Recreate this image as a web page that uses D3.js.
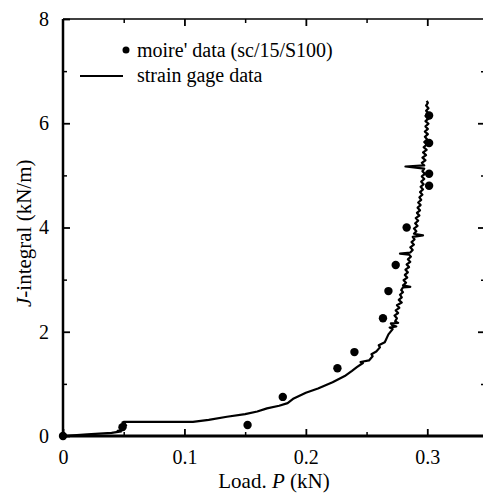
<!DOCTYPE html>
<html>
<head>
<meta charset="utf-8">
<script src="https://cdn.jsdelivr.net/npm/d3@7"></script>
<style>
  body { margin: 0; background: #fff; }
  text { font-family: "Liberation Serif", "Times New Roman", serif; fill: #000; }
</style>
</head>
<body>
<div id="chart"></div>
<script>
// strain gage trace (load P in kN, J in kN/m)
var gageP = [0, 0.02, 0.04, 0.048, 0.045, 0.05, 0.049, 0.052, 0.05, 0.07, 0.09, 0.107,
    0.12, 0.135, 0.15, 0.16, 0.168, 0.178, 0.185, 0.19, 0.2, 0.21, 0.222, 0.232, 0.238,
    0.242, 0.247, 0.245, 0.252, 0.255, 0.254, 0.258, 0.261, 0.26, 0.265, 0.268,
    0.2715, 0.269, 0.2745, 0.271, 0.27, 0.276, 0.2735, 0.275, 0.273, 0.276, 0.274,
    0.277, 0.275, 0.279, 0.2765, 0.279, 0.2775, 0.28, 0.2785, 0.28, 0.286, 0.28,
    0.2825, 0.2805, 0.2835, 0.2815, 0.284, 0.282, 0.285, 0.283, 0.286, 0.284,
    0.2865, 0.285, 0.2775, 0.286, 0.288, 0.286, 0.289, 0.287, 0.2895, 0.288,
    0.2965, 0.289, 0.291, 0.289, 0.292, 0.29, 0.2925, 0.2905, 0.2935, 0.2915,
    0.294, 0.292, 0.2945, 0.2925, 0.295, 0.2935, 0.296, 0.294, 0.2965, 0.2945,
    0.297, 0.295, 0.2975, 0.2955, 0.298, 0.296, 0.2975, 0.282, 0.2975, 0.2955,
    0.2985, 0.296, 0.299, 0.2965, 0.2995, 0.297, 0.2995, 0.2975, 0.3, 0.298,
    0.3005, 0.298, 0.3005, 0.2985, 0.301, 0.2985, 0.301, 0.2985, 0.301, 0.299,
    0.301, 0.299, 0.3005, 0.2995];
var gageJ = [0, 0.03, 0.06, 0.09, 0.1, 0.12, 0.26, 0.2, 0.27, 0.27, 0.27, 0.27,
    0.31, 0.37, 0.42, 0.47, 0.53, 0.58, 0.63, 0.72, 0.83, 0.91, 1.03, 1.15, 1.25,
    1.32, 1.4, 1.42, 1.45, 1.53, 1.57, 1.62, 1.7, 1.74, 1.8, 1.95,
    2.05, 2.08, 2.1, 2.13, 2.16, 2.17, 2.2, 2.26, 2.31, 2.36, 2.41,
    2.46, 2.51, 2.56, 2.61, 2.66, 2.71, 2.76, 2.8, 2.85, 2.86, 2.89,
    2.94, 2.99, 3.04, 3.09, 3.14, 3.19, 3.24, 3.29, 3.34, 3.39,
    3.44, 3.48, 3.5, 3.52, 3.57, 3.62, 3.67, 3.72, 3.77, 3.82,
    3.85, 3.88, 3.93, 3.98, 4.03, 4.08, 4.13, 4.18, 4.23, 4.28,
    4.33, 4.38, 4.43, 4.48, 4.53, 4.58, 4.63, 4.68, 4.73, 4.78,
    4.83, 4.88, 4.93, 4.98, 5.03, 5.08, 5.13, 5.17, 5.19, 5.24,
    5.29, 5.34, 5.39, 5.44, 5.49, 5.54, 5.59, 5.64, 5.69, 5.74,
    5.79, 5.84, 5.89, 5.94, 5.99, 6.04, 6.09, 6.14, 6.19, 6.24,
    6.29, 6.34, 6.39, 6.43];

// moire data points
var moireP = [0, 0.049, 0.152, 0.181, 0.226, 0.24, 0.2635, 0.268, 0.274, 0.283, 0.3015, 0.3015, 0.3015, 0.3015];
var moireJ = [0, 0.17, 0.21, 0.75, 1.3, 1.61, 2.26, 2.78, 3.28, 4.0, 4.8, 5.03, 5.62, 6.15];

var xMajor = [0, 0.1, 0.2, 0.3];
var xMinor = [0.05, 0.15, 0.25];
var yMajor = [0, 2, 4, 6, 8];
var yMinor = [1, 3, 5, 7];

var w = 483, h = 493;
var mLeft = 63, mRight = 488, mTop = 19, mBottom = 436;

var x = d3.scaleLinear().domain([0, 0.35]).range([mLeft, mRight]);
var y = d3.scaleLinear().domain([0, 8]).range([mBottom, mTop]);

var svg = d3.select("#chart").append("svg")
    .attr("width", w)
    .attr("height", h);

function styleAxis(g, width) {
    g.select(".domain").remove();
    g.selectAll(".tick line").attr("stroke", "#000").attr("stroke-width", width);
    g.selectAll(".tick text").style("font-size", "20px");
}

// bottom axis
svg.append("g")
    .attr("transform", "translate(0," + mBottom + ")")
    .call(d3.axisBottom(x).tickValues(xMajor).tickSize(-7).tickPadding(14)
        .tickFormat(function(d){ return d === 0 ? "0" : d3.format(".1f")(d); }))
    .call(styleAxis, 1.8);
svg.append("g")
    .attr("transform", "translate(0," + mBottom + ")")
    .call(d3.axisBottom(x).tickValues(xMinor).tickSize(-4).tickFormat(""))
    .call(styleAxis, 1.5);

// top axis
svg.append("g")
    .attr("transform", "translate(0," + mTop + ")")
    .call(d3.axisTop(x).tickValues(xMajor.slice(1)).tickSize(-7).tickFormat(""))
    .call(styleAxis, 1.8);
svg.append("g")
    .attr("transform", "translate(0," + mTop + ")")
    .call(d3.axisTop(x).tickValues(xMinor).tickSize(-4).tickFormat(""))
    .call(styleAxis, 1.5);

// left axis
svg.append("g")
    .attr("transform", "translate(" + mLeft + ",0)")
    .call(d3.axisLeft(y).tickValues(yMajor).tickSize(-7).tickPadding(14))
    .call(styleAxis, 1.8);
svg.append("g")
    .attr("transform", "translate(" + mLeft + ",0)")
    .call(d3.axisLeft(y).tickValues(yMinor).tickSize(-4).tickFormat(""))
    .call(styleAxis, 1.5);

// right axis (mostly off the page)
svg.append("g")
    .attr("transform", "translate(" + mRight + ",0)")
    .call(d3.axisRight(y).tickValues(yMajor.slice(1, 4)).tickSize(-10).tickFormat(""))
    .call(styleAxis, 1.8);
svg.append("g")
    .attr("transform", "translate(" + mRight + ",0)")
    .call(d3.axisRight(y).tickValues(yMinor).tickSize(-7).tickFormat(""))
    .call(styleAxis, 1.5);

// frame lines
svg.append("line")
    .attr("x1", mLeft).attr("x2", mRight).attr("y1", mTop).attr("y2", mTop)
    .attr("stroke", "#000").attr("stroke-width", 1.5);
svg.append("line")
    .attr("x1", mLeft).attr("x2", mRight).attr("y1", mBottom).attr("y2", mBottom)
    .attr("stroke", "#000").attr("stroke-width", 3);
svg.append("line")
    .attr("x1", mLeft).attr("x2", mLeft).attr("y1", mTop).attr("y2", mBottom + 1.5)
    .attr("stroke", "#000").attr("stroke-width", 2.5);

// strain gage line
var line = d3.line()
    .x(function(d){ return x(d[0]); })
    .y(function(d){ return y(d[1]); });

svg.append("path")
    .datum(d3.zip(gageP, gageJ))
    .attr("d", line)
    .attr("fill", "none")
    .attr("stroke", "#000")
    .attr("stroke-width", 2.2)
    .attr("stroke-linejoin", "round");

// moire points
svg.selectAll("circle.moire")
    .data(d3.zip(moireP, moireJ))
    .enter()
    .append("circle")
    .attr("class", "moire")
    .attr("cx", function(d){ return x(d[0]); })
    .attr("cy", function(d){ return y(d[1]); })
    .attr("r", 4.2)
    .attr("fill", "#000");

// legend
svg.append("circle")
    .attr("cx", 126).attr("cy", 50).attr("r", 3.5).attr("fill", "#000");
svg.append("text")
    .attr("x", 137).attr("y", 57)
    .style("font-size", "20px")
    .text("moire' data (sc/15/S100)");
svg.append("line")
    .attr("x1", 80).attr("x2", 123).attr("y1", 76).attr("y2", 76)
    .attr("stroke", "#000").attr("stroke-width", 2);
svg.append("text")
    .attr("x", 137).attr("y", 82)
    .style("font-size", "20px")
    .text("strain gage data");

// axis titles
var xt = svg.append("text")
    .attr("x", 274).attr("y", 488)
    .attr("text-anchor", "middle")
    .style("font-size", "21px");
xt.append("tspan").text("Load. ");
xt.append("tspan").style("font-style", "italic").text("P");
xt.append("tspan").text(" (kN)");

var yt = svg.append("text")
    .attr("transform", "translate(31,307) rotate(-90)")
    .attr("text-anchor", "start")
    .style("font-size", "21px");
yt.append("tspan").style("font-style", "italic").text("J");
yt.append("tspan").text("-integral (kN/m)");
</script>
</body>
</html>
